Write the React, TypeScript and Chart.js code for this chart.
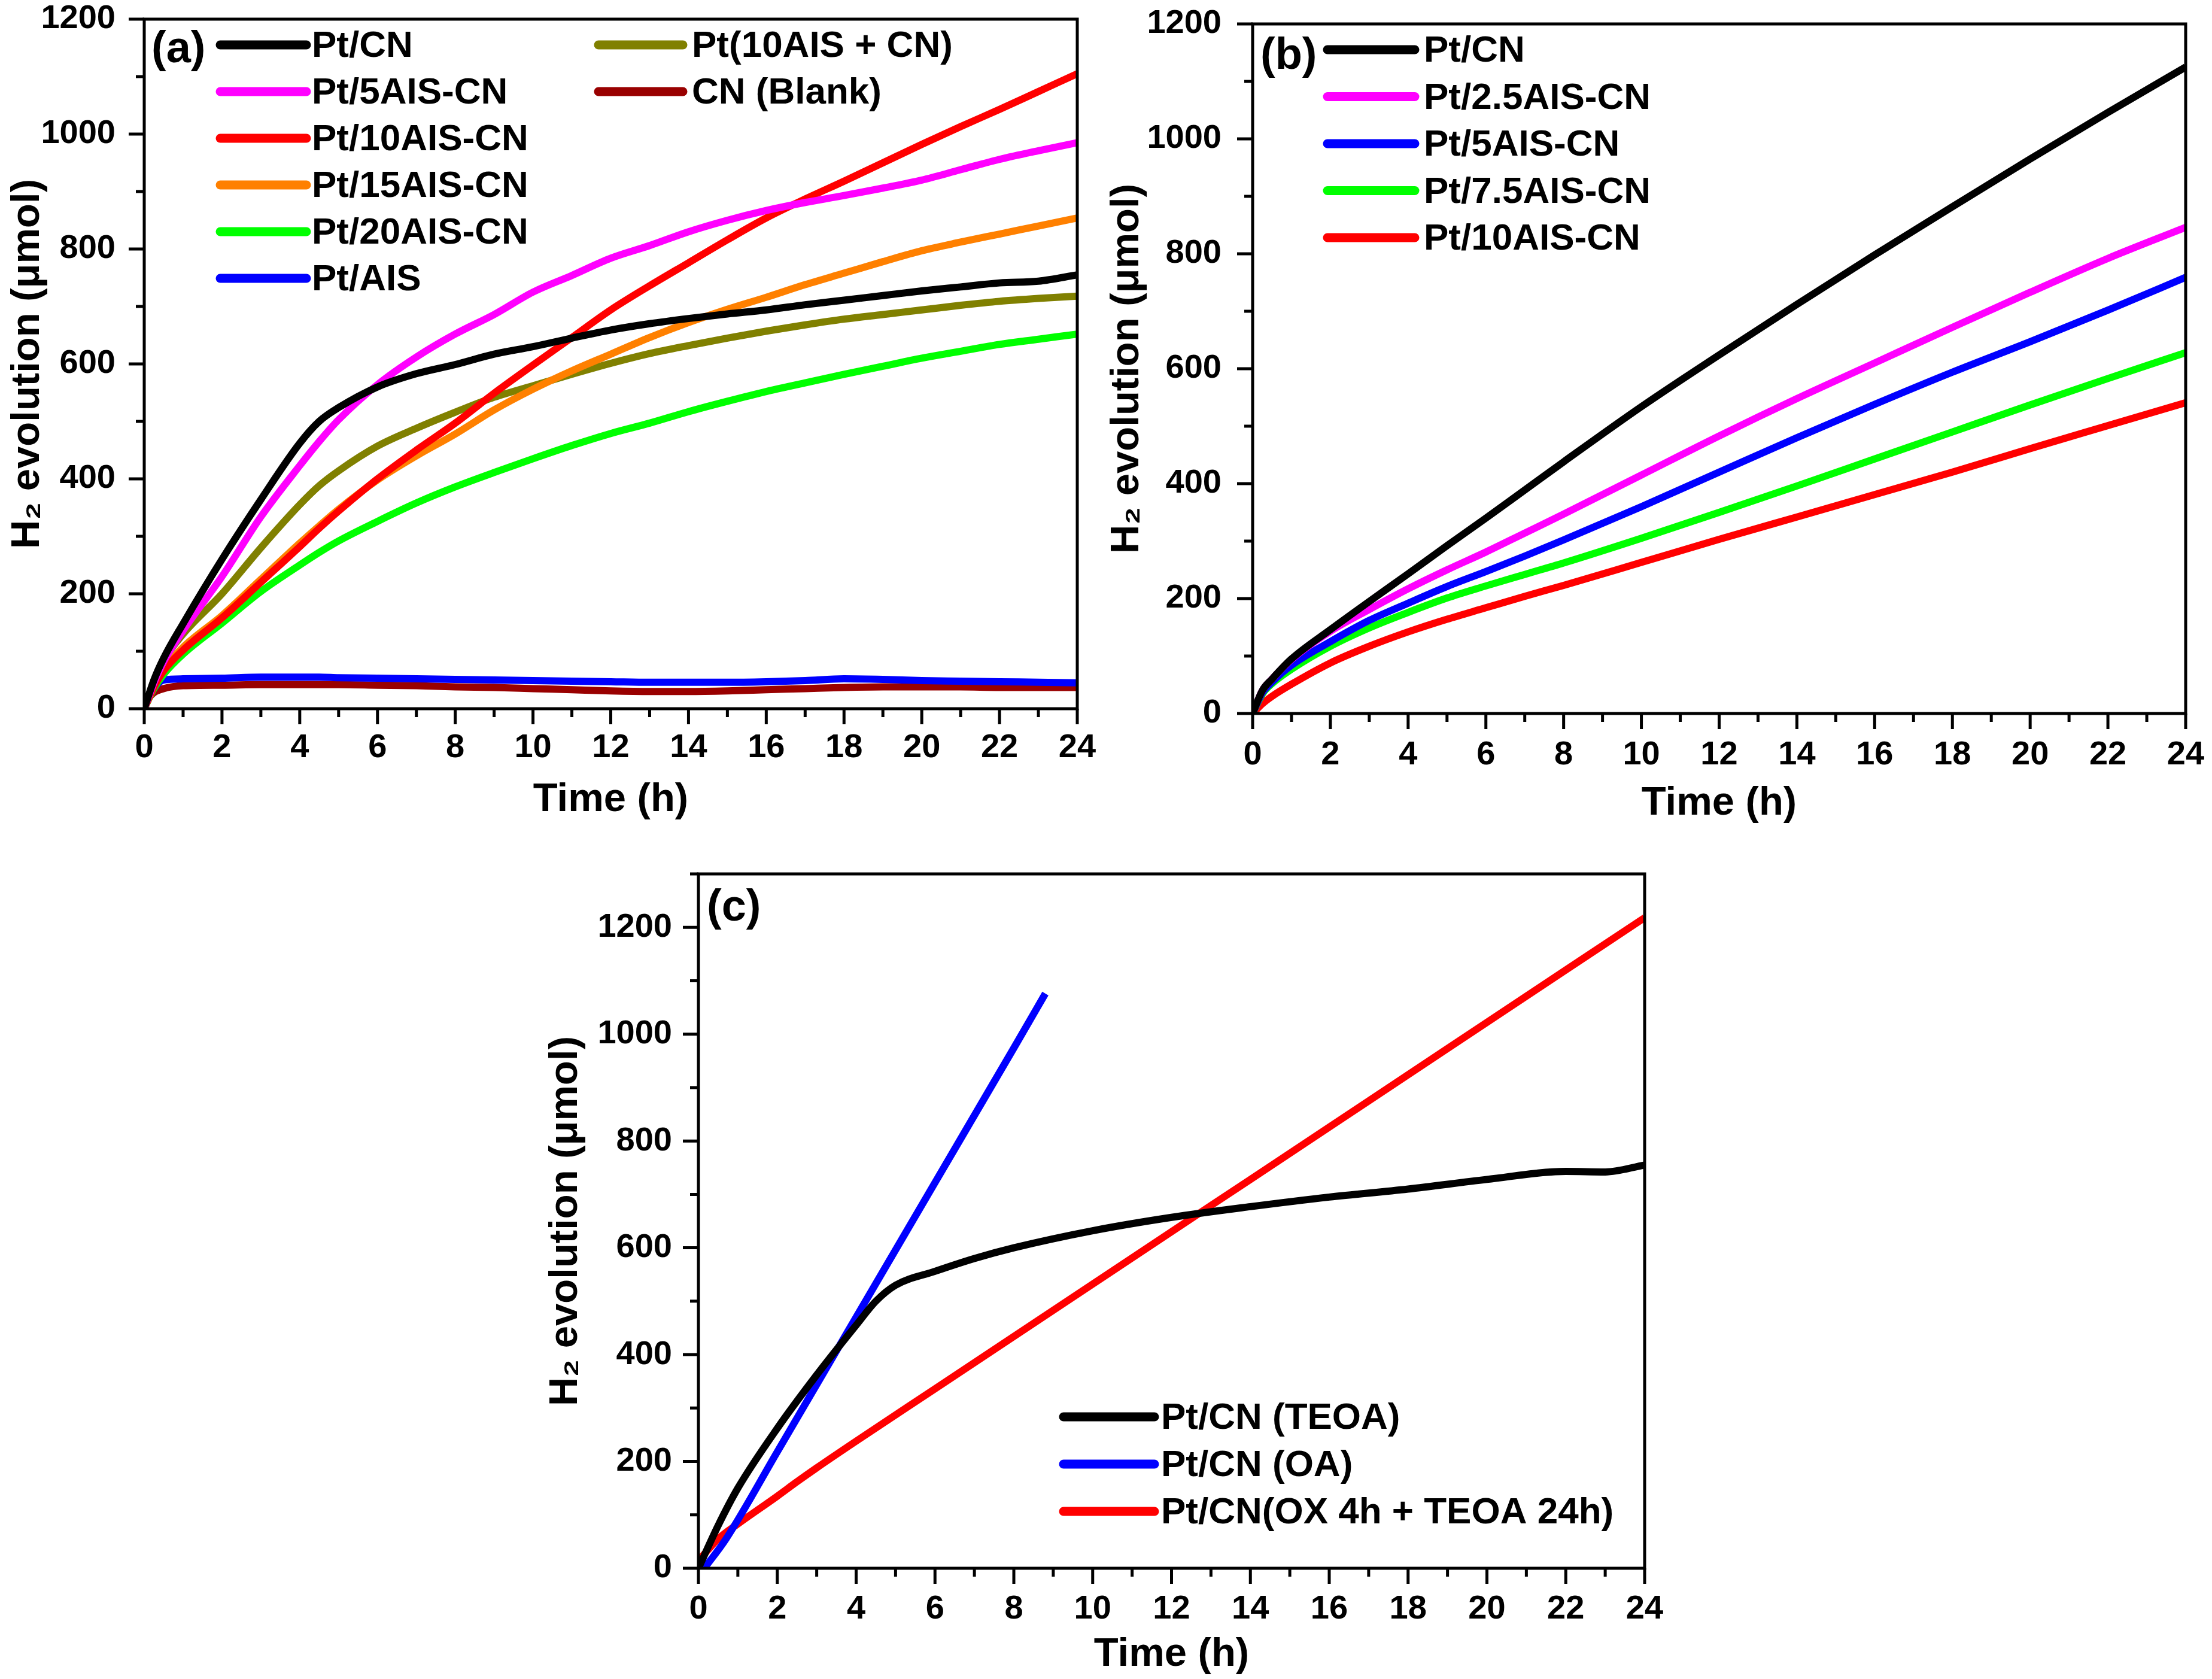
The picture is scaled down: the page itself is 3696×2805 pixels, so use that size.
import { useEffect, useRef } from "react"
import { Chart, registerables } from "chart.js"

Chart.register(...registerables)

// ---- data ----

// panel (a)
const hoursA = [0, 0.25, 0.5, 1, 2, 3, 4, 4.5, 5, 6, 7, 8, 9, 10, 11, 12, 13, 14, 15, 16, 17, 18, 19, 20, 21, 22, 23, 24]
const aPtCN = [0, 50, 88, 148, 260, 364, 462, 500, 524, 560, 583, 599, 617, 630, 645, 659, 670, 679, 687, 694, 703, 711, 719, 727, 734, 741, 744, 755]
const aPt5AIS = [0, 45, 82, 136, 230, 334, 423, 465, 503, 564, 612, 652, 686, 725, 754, 784, 806, 830, 850, 867, 881, 893, 906, 920, 938, 956, 971, 985]
const aPt10AIS = [0, 38, 66, 102, 158, 220, 282, 314, 344, 400, 450, 497, 549, 598, 646, 694, 736, 776, 816, 854, 887, 918, 950, 982, 1013, 1043, 1074, 1105]
const aPt15AIS = [0, 38, 68, 107, 162, 225, 288, 318, 347, 398, 440, 478, 520, 556, 588, 617, 646, 672, 695, 716, 738, 758, 778, 797, 812, 826, 840, 854]
const aPt20AIS = [0, 35, 60, 95, 149, 204, 250, 272, 292, 326, 358, 386, 411, 435, 458, 479, 497, 517, 535, 552, 567, 582, 596, 610, 622, 634, 643, 652]
const aPtAIS = [0, 35, 50, 52, 53, 55, 55, 55, 54, 53, 52, 51, 50, 49, 48, 47, 46, 46, 46, 47, 49, 52, 51, 49, 48, 47, 46, 45]
const aPt10AISplusCN = [0, 48, 84, 130, 200, 280, 355, 388, 414, 457, 488, 516, 542, 562, 582, 601, 618, 632, 645, 657, 668, 678, 686, 694, 702, 709, 714, 718]
const aCNBlank = [10, 28, 35, 40, 41, 42, 42, 42, 42, 41, 40, 38, 37, 35, 33, 31, 30, 30, 31, 33, 35, 37, 38, 38, 38, 37, 37, 37]

// panel (b)
const hoursB = [0, 0.25, 0.5, 1, 2, 3, 4, 5, 6, 7, 8, 10, 12, 14, 16, 18, 20, 22, 24]
const bPtCN = [0, 40, 60, 95, 146, 195, 243, 292, 340, 389, 438, 534, 624, 712, 798, 882, 965, 1046, 1125]
const bPt25AIS = [0, 40, 60, 94, 143, 181, 217, 250, 281, 314, 347, 415, 483, 548, 610, 672, 733, 792, 846]
const bPt5AIS = [0, 36, 55, 84, 125, 162, 192, 221, 247, 274, 302, 360, 420, 480, 538, 594, 647, 702, 759]
const bPt75AIS = [0, 34, 52, 77, 117, 149, 176, 201, 222, 242, 262, 305, 350, 396, 443, 490, 537, 583, 628]
const bPt10AIS = [0, 17, 30, 51, 88, 117, 142, 164, 184, 204, 223, 263, 303, 342, 381, 420, 461, 501, 541]

// panel (c)
const hoursTEOA = [0, 0.5, 1, 2, 3, 4, 4.5, 5, 6, 7, 8, 10, 12, 14, 16, 18, 20, 22, 23, 24]
const cTEOA = [0, 80, 150, 262, 362, 455, 500, 530, 556, 580, 600, 632, 657, 677, 695, 710, 728, 743, 742, 755]
const hoursOA = [0.15, 0.7, 2, 4, 6, 8, 8.8]
const cOA = [0, 55, 218, 470, 722, 974, 1076]
const hoursOX = [0, 0.25, 0.5, 1, 2, 2.5, 3, 4, 6, 8, 10, 12, 14, 16, 18, 20, 22, 24]
const cOX = [14, 35, 55, 83, 135, 162, 188, 238, 336, 434, 532, 630, 728, 826, 924, 1022, 1120, 1218]

const xTicks = [0, 2, 4, 6, 8, 10, 12, 14, 16, 18, 20, 22, 24]

// ---- styling ----
const FONT = "'Liberation Sans', Arial, Helvetica, sans-serif"
const TICK_SIZE = 56
const TITLE_SIZE = 67
const LEGEND_SIZE = 62
const TAG_SIZE = 74

interface SeriesDef {
  label: string
  color: string
  xs: number[]
  ys: number[]
}

interface LegendCol {
  x1: number
  x2: number
  tx: number
}

interface PanelDef {
  tag: string
  tagX: number
  tagY: number
  left: number
  top: number
  width: number
  height: number
  padTop: number
  padRight: number
  yWidth: number
  xHeight: number
  yMax: number
  yLabelPad: number
  xLabelPad: number
  yTitlePad: number
  xTitlePad: number
  series: SeriesDef[]
  legendCols: LegendCol[]
  legendPos: [number, number][]
  legendY0: number
  legendDy: number
}

const panels: PanelDef[] = [
  {
    tag: "(a)", tagX: 253, tagY: 84,
    left: 0, top: 0, width: 1848, height: 1400,
    padTop: 32, padRight: 48, yWidth: 241, xHeight: 216, yMax: 1200,
    yLabelPad: 48, xLabelPad: 38, yTitlePad: 13, xTitlePad: 30,
    series: [
      { label: "Pt/CN", color: "#000000", xs: hoursA, ys: aPtCN },
      { label: "Pt/5AIS-CN", color: "#ff00ff", xs: hoursA, ys: aPt5AIS },
      { label: "Pt/10AIS-CN", color: "#ff0000", xs: hoursA, ys: aPt10AIS },
      { label: "Pt/15AIS-CN", color: "#ff8000", xs: hoursA, ys: aPt15AIS },
      { label: "Pt/20AIS-CN", color: "#00ff00", xs: hoursA, ys: aPt20AIS },
      { label: "Pt/AIS", color: "#0000ff", xs: hoursA, ys: aPtAIS },
      { label: "Pt(10AIS + CN)", color: "#808000", xs: hoursA, ys: aPt10AISplusCN },
      { label: "CN (Blank)", color: "#990000", xs: hoursA, ys: aCNBlank },
    ],
    legendCols: [{ x1: 368, x2: 512, tx: 521 }, { x1: 1000, x2: 1141, tx: 1156 }],
    legendPos: [[0, 0], [0, 1], [0, 2], [0, 3], [0, 4], [0, 5], [1, 0], [1, 1]],
    legendY0: 75, legendDy: 78,
  },
  {
    tag: "(b)", tagX: 258, tagY: 95,
    left: 1848, top: 0, width: 1848, height: 1400,
    padTop: 40, padRight: 44, yWidth: 245, xHeight: 208, yMax: 1200,
    yLabelPad: 52, xLabelPad: 42, yTitlePad: 2, xTitlePad: 24,
    series: [
      { label: "Pt/CN", color: "#000000", xs: hoursB, ys: bPtCN },
      { label: "Pt/2.5AIS-CN", color: "#ff00ff", xs: hoursB, ys: bPt25AIS },
      { label: "Pt/5AIS-CN", color: "#0000ff", xs: hoursB, ys: bPt5AIS },
      { label: "Pt/7.5AIS-CN", color: "#00ff00", xs: hoursB, ys: bPt75AIS },
      { label: "Pt/10AIS-CN", color: "#ff0000", xs: hoursB, ys: bPt10AIS },
    ],
    legendCols: [{ x1: 370, x2: 516, tx: 531 }],
    legendPos: [[0, 0], [0, 1], [0, 2], [0, 3], [0, 4]],
    legendY0: 83, legendDy: 78.5,
  },
  {
    tag: "(c)", tagX: 281, tagY: 118,
    left: 900, top: 1400, width: 1900, height: 1405,
    padTop: 60, padRight: 52, yWidth: 267, xHeight: 185, yMax: 1300,
    yLabelPad: 44, xLabelPad: 41, yTitlePad: 12, xTitlePad: 7,
    series: [
      { label: "Pt/CN (TEOA)", color: "#000000", xs: hoursTEOA, ys: cTEOA },
      { label: "Pt/CN (OA)", color: "#0000ff", xs: hoursOA, ys: cOA },
      { label: "Pt/CN(OX 4h + TEOA 24h)", color: "#ff0000", xs: hoursOX, ys: cOX },
    ],
    legendCols: [{ x1: 877, x2: 1029, tx: 1040 }],
    legendPos: [[0, 0], [0, 1], [0, 2]],
    legendY0: 967, legendDy: 79,
  },
]

// frame, outward tick marks, legend and panel tag
function makeDecor(p: PanelDef) {
  return {
    id: "decor",
    afterDraw(chart: Chart) {
      const ctx = chart.ctx
      const { left, right, top, bottom } = chart.chartArea
      const xs = chart.scales.x
      const ys = chart.scales.y
      ctx.save()
      ctx.strokeStyle = "#000"
      ctx.lineWidth = 5
      ctx.lineCap = "butt"
      ctx.beginPath()
      for (let v = 0; v <= 24; v += 1) {
        const px = xs.getPixelForValue(v)
        const len = v % 2 === 0 ? 26 : 14
        ctx.moveTo(px, bottom)
        ctx.lineTo(px, bottom + len)
      }
      for (let v = 0; v <= p.yMax; v += 100) {
        const py = ys.getPixelForValue(v)
        const len = v % 200 === 0 ? 26 : 14
        ctx.moveTo(left - len, py)
        ctx.lineTo(left, py)
      }
      ctx.stroke()
      ctx.strokeRect(left, top, right - left, bottom - top)

      // legend
      ctx.font = `bold ${LEGEND_SIZE}px ${FONT}`
      ctx.textBaseline = "middle"
      ctx.textAlign = "left"
      p.series.forEach((s, i) => {
        const [c, r] = p.legendPos[i]
        const col = p.legendCols[c]
        const y = p.legendY0 + r * p.legendDy
        ctx.strokeStyle = s.color
        ctx.lineWidth = 15
        ctx.lineCap = "round"
        ctx.beginPath()
        ctx.moveTo(col.x1, y)
        ctx.lineTo(col.x2, y)
        ctx.stroke()
        ctx.fillStyle = "#000"
        ctx.fillText(s.label, col.tx, y + 3)
      })

      ctx.font = `bold ${TAG_SIZE}px ${FONT}`
      ctx.fillStyle = "#000"
      ctx.fillText(p.tag, p.tagX, p.tagY)
      ctx.restore()
    },
  }
}

function Panel({ p }: { p: PanelDef }) {
  const chartRef = useRef<HTMLCanvasElement>(null)
  const chartInstance = useRef<Chart | null>(null)

  useEffect(() => {
    if (!chartRef.current) return
    if (chartInstance.current) chartInstance.current.destroy()

    chartInstance.current = new Chart(chartRef.current, {
      type: "line",
      data: {
        datasets: p.series.map((s) => ({
          label: s.label,
          data: s.xs.map((x, i) => ({ x, y: s.ys[i] })),
          borderColor: s.color,
          backgroundColor: s.color,
          borderWidth: 12,
          pointRadius: 0,
          fill: false,
          cubicInterpolationMode: "monotone" as const,
          borderJoinStyle: "round" as const,
        })),
      },
      options: {
        responsive: false,
        animation: false,
        devicePixelRatio: 1,
        layout: { padding: { left: 0, top: p.padTop, right: p.padRight, bottom: 0 } },
        plugins: {
          legend: { display: false },
          tooltip: { enabled: false },
        },
        scales: {
          x: {
            type: "linear",
            min: 0,
            max: 24,
            afterFit: (scale: any) => {
              scale.height = p.xHeight
              // keep the plot box where the layout padding puts it
              scale.paddingLeft = 0
              scale.paddingRight = 0
            },
            afterBuildTicks: (scale: any) => {
              scale.ticks = xTicks.map((value) => ({ value }))
            },
            grid: { display: false, drawTicks: false },
            border: { display: false },
            ticks: {
              color: "#000",
              padding: p.xLabelPad,
              maxRotation: 0,
              font: { family: FONT, size: TICK_SIZE, weight: "bold", lineHeight: 1 },
            },
            title: {
              display: true,
              text: "Time (h)",
              color: "#000",
              padding: { top: 0, bottom: p.xTitlePad },
              font: { family: FONT, size: TITLE_SIZE, weight: "bold", lineHeight: 1 },
            },
          },
          y: {
            type: "linear",
            min: 0,
            max: p.yMax,
            afterFit: (scale: any) => {
              scale.width = p.yWidth
              scale.paddingTop = 0
              scale.paddingBottom = 0
            },
            grid: { display: false, drawTicks: false },
            border: { display: false },
            ticks: {
              stepSize: 200,
              includeBounds: false,
              color: "#000",
              padding: p.yLabelPad,
              callback: (v: any) => (Number(v) % 200 === 0 ? String(v) : ""),
              font: { family: FONT, size: TICK_SIZE, weight: "bold", lineHeight: 1 },
            },
            title: {
              display: true,
              text: "H\u2082 evolution (\u03bcmol)",
              color: "#000",
              padding: { top: p.yTitlePad, bottom: 0 },
              font: { family: FONT, size: TITLE_SIZE, weight: "bold", lineHeight: 1 },
            },
          },
        },
      },
      plugins: [makeDecor(p)],
    })

    return () => {
      if (chartInstance.current) {
        chartInstance.current.destroy()
        chartInstance.current = null
      }
    }
  }, [p])

  return (
    <canvas
      ref={chartRef}
      width={p.width}
      height={p.height}
      style={{ position: "absolute", left: p.left, top: p.top, width: p.width, height: p.height }}
    />
  )
}

export default function App() {
  return (
    <div style={{ position: "absolute", left: 0, top: 0, width: 3696, height: 2805, background: "#fff" }}>
      {panels.map((p) => (
        <Panel key={p.tag} p={p} />
      ))}
    </div>
  )
}
